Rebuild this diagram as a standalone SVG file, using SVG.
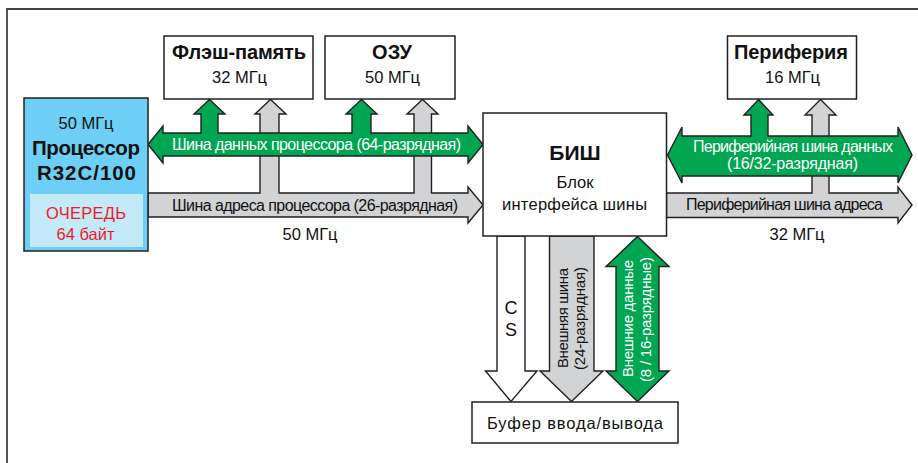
<svg xmlns="http://www.w3.org/2000/svg" width="918" height="463" viewBox="0 0 918 463">
<style>
  .box { fill: #ffffff; stroke: #231f20; stroke-width: 1.5; }
  .bus { stroke: #231f20; stroke-width: 1.4; stroke-linejoin: miter; }
  .green { fill: #00a651; }
  .gray { fill: #d1d3d4; }
  .white { fill: #ffffff; }
  text { font-family: "Liberation Sans", Arial, sans-serif; fill: #111111; }
  .b { font-weight: bold; }
  .t16 { font-size: 16.5px; }
  .t15 { font-size: 16px; }
  .t14 { font-size: 15px; }
  .hd { font-size: 20px; font-weight: bold; }
  .w { fill: #ffffff; }
  .red { fill: #ed1c24; }
  .mid { text-anchor: middle; }
</style>
<rect x="0" y="0" width="918" height="463" fill="#ffffff"/>
<path d="M7,463 V9 H918" fill="none" stroke="#444444" stroke-width="1.8"/>

<g id="connectors">
  <polygon class="bus gray" points="148,193 260,193 260,114 255,114 270.5,99.5 286,114 279,114 279,193 414,193 414,114 407,114 422.5,99.5 438,114 431.5,114 431.5,193 468,193 468,187 483,205 468,223 468,217 148,217"/>
  <polygon class="bus green" points="148,144.5 163,126 163,133 201,133 201,114 194,114 209.5,99.5 225,114 218,114 218,133 352,133 352,114 346,114 361.5,99.5 377,114 371,114 371,133 468,133 468,126 483,144.5 468,163 468,156 163,156 163,163"/>
  <polygon class="bus gray" points="666.5,193 812,193 812,115 805,115 820.5,99.5 836,115 829,115 829,193 898,193 898,187 912,205 898,223 898,217.5 666.5,217.5"/>
  <polygon class="bus green" points="667.5,155 682,127 682,136 751,136 751,115 744,115 758.5,99.5 773,115 768,115 768,136 898,136 898,127 912,155 898,183 898,176 682,176 682,183"/>
  <polygon class="bus white" points="497,236 525,236 525,371 537,371 511,401.5 485.5,371 497,371"/>
  <polygon class="bus gray" points="549.5,236 594,236 594,371 603,371 571.5,401.5 540,371 549.5,371"/>
  <polygon class="bus green" points="637.5,236.5 669,266.5 659,266.5 659,371 669,371 637.5,401.5 606,371 616,371 616,266.5 606,266.5"/>

  <text class="t15 w" x="172" y="150" textLength="289">Шина данных процессора (64-разрядная)</text>
  <text class="t15" x="172" y="210.5" textLength="286">Шина адреса процессора (26-разрядная)</text>
  <text class="t16 mid" x="310" y="240">50 МГц</text>
  <text class="t15 w mid" x="793" y="152" textLength="200">Периферийная шина данных</text>
  <text class="t15 w mid" x="792.5" y="168.5" textLength="131">(16/32-разрядная)</text>
  <text class="t15" x="686" y="209.5" textLength="197">Периферийная шина адреса</text>
  <text class="t16 mid" x="797" y="240">32 МГц</text>
  <text class="mid" x="511" y="314" font-size="18">C</text>
  <text class="mid" x="511" y="336" font-size="18">S</text>
  <text class="t14 mid" transform="translate(567.5,318) rotate(-90)" textLength="100">Внешняя шина</text>
  <text class="t14 mid" transform="translate(585,318.5) rotate(-90)" textLength="103">(24-разрядная)</text>
  <text class="t14 w mid" transform="translate(633,318.5) rotate(-90)" textLength="117">Внешние данные</text>
  <text class="t14 w mid" transform="translate(651,319.5) rotate(-90)" textLength="125">(8 / 16-разрядные)</text>
</g>

<g id="processor">
  <rect x="24" y="98" width="124" height="153" fill="#6dcff6" stroke="#231f20" stroke-width="1.5"/>
  <rect x="30" y="194" width="113" height="53" fill="#c4e9f9"/>
  <text class="t16 mid" x="86" y="128.5">50 МГц</text>
  <text class="b mid" x="86" y="155" font-size="20.5" textLength="108">Процессор</text>
  <text class="b mid" x="86.5" y="180" font-size="20.5" textLength="99">R32C/100</text>
  <text class="t16 red mid" x="86" y="218.5" textLength="80">ОЧЕРЕДЬ</text>
  <text class="t16 red mid" x="85.5" y="239.5">64 байт</text>
</g>

<g id="flash">
  <rect class="box" x="164" y="36" width="149" height="63"/>
  <text class="hd mid" x="239" y="59" textLength="134">Флэш-память</text>
  <text class="t16 mid" x="239.5" y="83">32 МГц</text>
</g>

<g id="ram">
  <rect class="box" x="325" y="36" width="130" height="63"/>
  <text class="hd mid" x="392" y="59">ОЗУ</text>
  <text class="t16 mid" x="392.5" y="83">50 МГц</text>
</g>

<g id="periphery">
  <rect class="box" x="727.5" y="36" width="129" height="63"/>
  <text class="hd mid" x="791" y="59" textLength="114">Периферия</text>
  <text class="t16 mid" x="792.5" y="83">16 МГц</text>
</g>

<g id="biu">
  <rect class="box" x="483" y="113" width="183.5" height="123"/>
  <text class="b mid" x="575" y="159.5" font-size="21">БИШ</text>
  <text class="t16 mid" x="575" y="187.5">Блок</text>
  <text class="t16 mid" x="574.5" y="209.5" textLength="145">интерфейса шины</text>
</g>

<g id="io-buffer">
  <rect class="box" x="472" y="402" width="206" height="41"/>
  <text class="t16 mid" x="575" y="428.5" textLength="176">Буфер ввода/вывода</text>
</g>
</svg>
